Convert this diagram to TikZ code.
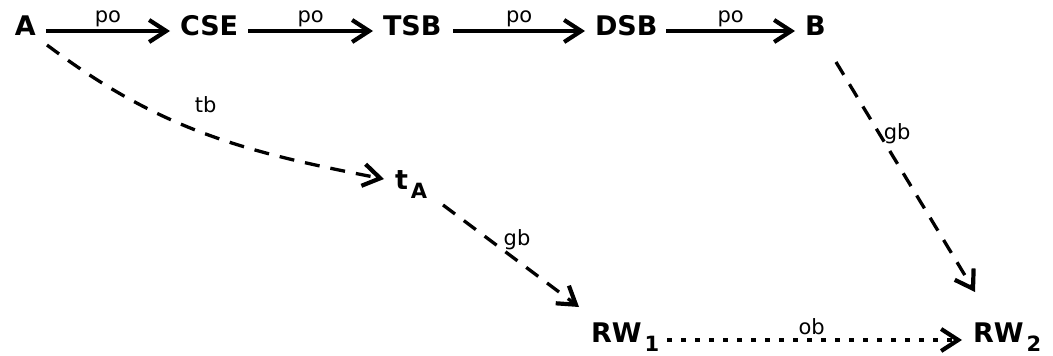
\documentclass[tikz,border=0pt]{standalone}
\usepackage{fontspec}
\setmainfont{DejaVu Sans}
\usetikzlibrary{arrows.meta}
\begin{document}
\begin{tikzpicture}[x=1pt,y=-1pt,
  nd/.style={font=\fontsize{27}{29}\selectfont\bfseries, inner sep=0pt, outer sep=0pt, anchor=base west},
  lbl/.style={font=\fontsize{21}{22}\selectfont, inner sep=1pt},
  rel/.style={line width=3.3pt, -{Straight Barb[length=17pt,width=22pt,line width=4.2pt]}},
  po/.style={rel},
  dsh/.style={rel, dash pattern=on 15pt off 11pt},
  dts/.style={rel, dash pattern=on 5pt off 9pt}
]
\useasboundingbox (0,0) rectangle (1053,356);
\newcommand{\subtxt}[1]{\kern3pt\raisebox{-9pt}{\fontsize{21}{21}\selectfont\bfseries #1}}
\node[nd] (A)   at (15,35)  {A};
\node[nd] (CSE) at (180,35) {CSE};
\node[nd] (TSB) at (383,35) {TSB};
\node[nd] (DSB) at (595,35) {DSB};
\node[nd] (B)   at (805,35) {B};
\node[nd] (tA)  at (395,189) {t\subtxt{A}};
\node[nd] (RW1) at (591,342) {RW\subtxt{1}};
\node[nd] (RW2) at (973,342) {RW\subtxt{2}};

\draw[po] ([shift={(10,-4)}]A.base east) -- node[lbl, above=1pt]{po} ([shift={(-10,-4)}]CSE.base west);
\draw[po] ([shift={(10,-4)}]CSE.base east) -- node[lbl, above=1pt]{po} ([shift={(-10,-4)}]TSB.base west);
\draw[po] ([shift={(12,-4)}]TSB.base east) -- node[lbl, above=1pt]{po} ([shift={(-10,-4)}]DSB.base west);
\draw[po] ([shift={(9,-4)}]DSB.base east) -- node[lbl, above=1pt]{po} ([shift={(-10,-4)}]B.base west);

\draw[dsh] ([shift={(32,10)}]A.base west) to[out=-37,in=169]
  node[lbl, pos=0.5, yshift=29pt]{tb} ([shift={(-11,-10)}]tA.base west);
\draw[dsh] ([shift={(48,16)}]tA.base west) --
  node[lbl, midway, xshift=6pt, yshift=16pt]{gb} ([shift={(-12,-35)}]RW1.base west);
\draw[dsh] ([shift={(31,27)}]B.base west) --
  node[lbl, pos=0.31, xshift=18pt]{gb} ([shift={(2,-50)}]RW2.base west);
\draw[dts] ([shift={(8,-2)}]RW1.base east) --
  node[lbl, midway, xshift=-3pt, yshift=13pt]{ob} ([shift={(-11,-2)}]RW2.base west);
\end{tikzpicture}
\end{document}
